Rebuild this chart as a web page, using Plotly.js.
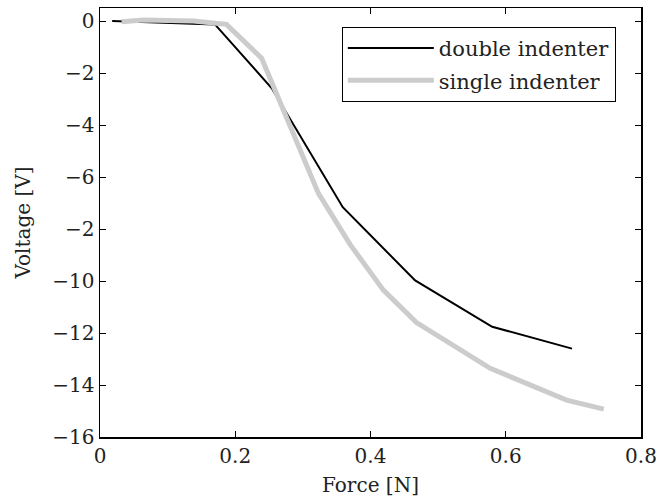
<!DOCTYPE html>
<html>
<head>
<meta charset="utf-8">
<script src="https://cdn.plot.ly/plotly-3.0.1.min.js"></script>
<style>html,body{margin:0;padding:0;background:#fff;}#chart{width:663px;height:501px;}</style>
</head>
<body>
<div id="chart"></div>
<script>
// Data
const doubleForce = [0.018, 0.170, 0.254, 0.359, 0.466, 0.580, 0.698];
const doubleVoltage = [0.0, -0.13, -2.59, -7.16, -9.98, -11.76, -12.60];
const singleForce = [0.032, 0.064, 0.138, 0.187, 0.239, 0.323, 0.370, 0.419, 0.468, 0.577, 0.690, 0.745];
const singleVoltage = [-0.03, 0.04, 0.0, -0.13, -1.43, -6.63, -8.60, -10.35, -11.60, -13.36, -14.58, -14.93];
const xTickVals = [0, 0.2, 0.4, 0.6, 0.8];
const xTickText = ["0", "0.2", "0.4", "0.6", "0.8"];
const yTickVals = [0, -2, -4, -6, -8, -10, -12, -14, -16];
const yTickText = ["0", "\u22122", "\u22124", "\u22126", "\u22122", "\u221210", "\u221212", "\u221214", "\u221216"];

const font = "DejaVu Serif";

const traces = [
  {x: doubleForce, y: doubleVoltage, type: "scatter", mode: "lines", name: "double indenter",
   legendgroup: "a", line: {color: "#000000", width: 2}},
  {x: singleForce, y: singleVoltage, type: "scatter", mode: "lines", name: "single indenter",
   legendgroup: "b", line: {color: "#cccccc", width: 5}}
];

const axisCommon = {
  showline: true, mirror: "ticks", linecolor: "#000", linewidth: 1.5,
  ticks: "inside", ticklen: 6, tickcolor: "#000", tickwidth: 1,
  showgrid: false, zeroline: false,
  tickfont: {family: font, size: 20, color: "#222"}
};

const layout = {
  width: 663, height: 501,
  margin: {l: 100, r: 22, t: 8, b: 64},
  paper_bgcolor: "#fff", plot_bgcolor: "#fff",
  font: {family: font, size: 20, color: "#222"},
  xaxis: Object.assign({}, axisCommon, {
    range: [0, 0.8], tickvals: xTickVals, ticktext: xTickText,
    title: {text: "Force [N]", font: {family: font, size: 20, color: "#222"}, standoff: 11}
  }),
  yaxis: Object.assign({}, axisCommon, {
    range: [-16, 0.5], tickvals: yTickVals, ticktext: yTickText,
    title: {text: "Voltage [V]", font: {family: font, size: 20, color: "#222"}, standoff: 16}
  }),
  showlegend: true,
  legend: {
    x: 0.447, y: 0.956, xanchor: "left", yanchor: "top",
    bgcolor: "#fff", bordercolor: "#000", borderwidth: 1,
    font: {family: font, size: 21, color: "#222"},
    tracegroupgap: 2, itemwidth: 86
  }
};

Plotly.newPlot("chart", traces, layout, {displayModeBar: false, staticPlot: true});
</script>
</body>
</html>
